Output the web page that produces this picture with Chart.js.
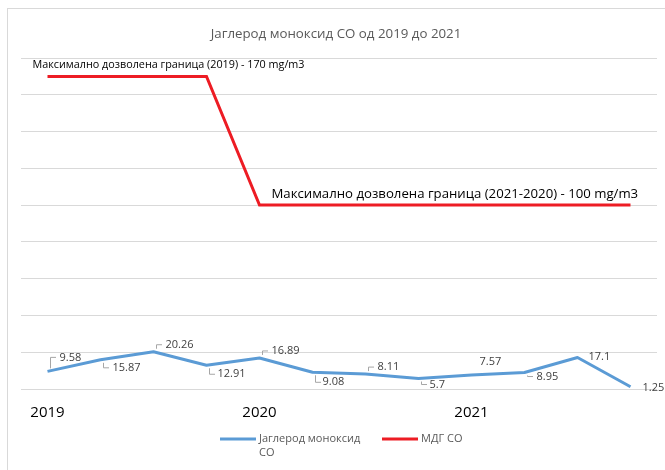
<!DOCTYPE html>
<html>
<head>
<meta charset="utf-8">
<script src="https://cdn.jsdelivr.net/npm/chart.js@4.4.1/dist/chart.umd.min.js"></script>
<style>
  html,body{margin:0;padding:0;background:#fff;}
</style>
</head>
<body>
<canvas id="myChart" width="665" height="470"></canvas>
<script>
'use strict';
let categories=['2019','','','','2020','','','','2021','','',''];
let coValues=[9.58,15.87,20.26,12.91,16.89,9.08,8.11,5.7,7.57,8.95,17.1,1.25];
let limitValues=[170,170,170,170,100,100,100,100,100,100,100,100];
let seriesNames=[['Јаглерод моноксид','СО'],['МДГ СО']];
let chartTitle='Јаглерод моноксид СО од 2019 до 2021';
let limitNotes=['Максимално дозволена граница (2019) - 170 mg/m3','Максимално дозволена граница (2021-2020) - 100 mg/m3'];

// label placement for the blue series: dx, dy from the point, leader line or not
let labelPlace=[[12,-14,1],[12,8,1],[12,-7,1],[11,9,1],[12,-7,1],[10,10,1],[12,-7,1],[11,6,1],[8,-13,0],[12,4,1],[11,-1,0],[12,1,0]];

let font='"Open Sans", "Noto Sans", sans-serif';
let blue='#5b9bd5';
let red='#ed1c24';

let extras={
  id:'extras',
  beforeDraw(chart){
    let ctx=chart.ctx;
    ctx.save();
    ctx.fillStyle='#fff';
    ctx.fillRect(0,0,chart.width,chart.height);
    ctx.strokeStyle='#d9d9d9';
    ctx.lineWidth=1;
    ctx.strokeRect(7.5,8.5,700,500);
    ctx.restore();
  },
  afterDraw(chart){
    let ctx=chart.ctx;
    let x=chart.scales.x;
    let y=chart.scales.y;
    ctx.save();
    // title
    ctx.fillStyle='#595959';
    ctx.font='13.3px '+font;
    ctx.textAlign='center';
    ctx.textBaseline='middle';
    ctx.fillText(chartTitle,336,34);
    // limit notes
    ctx.fillStyle='#000';
    ctx.textAlign='left';
    ctx.font='10.8px '+font;
    ctx.fillText(limitNotes[0],x.getPixelForValue(0)-15,y.getPixelForValue(limitValues[0])-11);
    ctx.font='13.2px '+font;
    ctx.fillText(limitNotes[1],x.getPixelForValue(4)+12,y.getPixelForValue(limitValues[4])-11);
    // data labels
    ctx.font='11px '+font;
    ctx.fillStyle='#404040';
    ctx.strokeStyle='#a6a6a6';
    ctx.lineWidth=1;
    coValues.forEach(function(v,i){
      let px=x.getPixelForValue(i);
      let py=y.getPixelForValue(v);
      let p=labelPlace[i];
      if(p[2]){
        let s=p[1]<0?-1:1;
        ctx.beginPath();
        ctx.moveTo(Math.round(px)+2.5,py+s*3);
        ctx.lineTo(Math.round(px)+2.5,py+p[1]);
        ctx.lineTo(Math.round(px)+8,py+p[1]);
        ctx.stroke();
      }
      ctx.fillText(String(v),px+p[0],py+p[1]);
    });
    // legend
    ctx.font='11px '+font;
    ctx.fillStyle='#595959';
    ctx.lineWidth=3;
    ctx.strokeStyle=blue;
    ctx.beginPath();ctx.moveTo(220,439);ctx.lineTo(256,439);ctx.stroke();
    ctx.fillText(seriesNames[0][0],259,439);
    ctx.fillText(seriesNames[0][1],259,453);
    ctx.strokeStyle=red;
    ctx.beginPath();ctx.moveTo(382,439);ctx.lineTo(418,439);ctx.stroke();
    ctx.fillText(seriesNames[1][0],421,439);
    ctx.restore();
  }
};

new Chart(document.getElementById('myChart'),{
  type:'line',
  data:{
    labels:categories,
    datasets:[{
      label:seriesNames[0].join(' '),
      data:coValues,
      borderColor:blue,
      borderWidth:3,
      pointRadius:0,
      tension:0,
      borderJoinStyle:'round'
    },{
      label:seriesNames[1][0],
      data:limitValues,
      borderColor:red,
      borderWidth:3,
      pointRadius:0,
      tension:0,
      borderJoinStyle:'miter'
    }]
  },
  options:{
    responsive:false,
    animation:false,
    devicePixelRatio:1,
    layout:{padding:{left:21,right:8,top:58,bottom:41}},
    plugins:{legend:{display:false},title:{display:false},tooltip:{enabled:false}},
    scales:{
      x:{
        offset:true,
        grid:{display:false},
        border:{display:false},
        ticks:{autoSkip:false,maxRotation:0,padding:7,color:'#000',font:{family:font,size:15}}
      },
      y:{
        min:0,
        max:180,
        ticks:{display:false,stepSize:20},
        grid:{color:'#d9d9d9',drawTicks:false},
        border:{display:false}
      }
    }
  },
  plugins:[extras]
});
</script>
</body>
</html>
